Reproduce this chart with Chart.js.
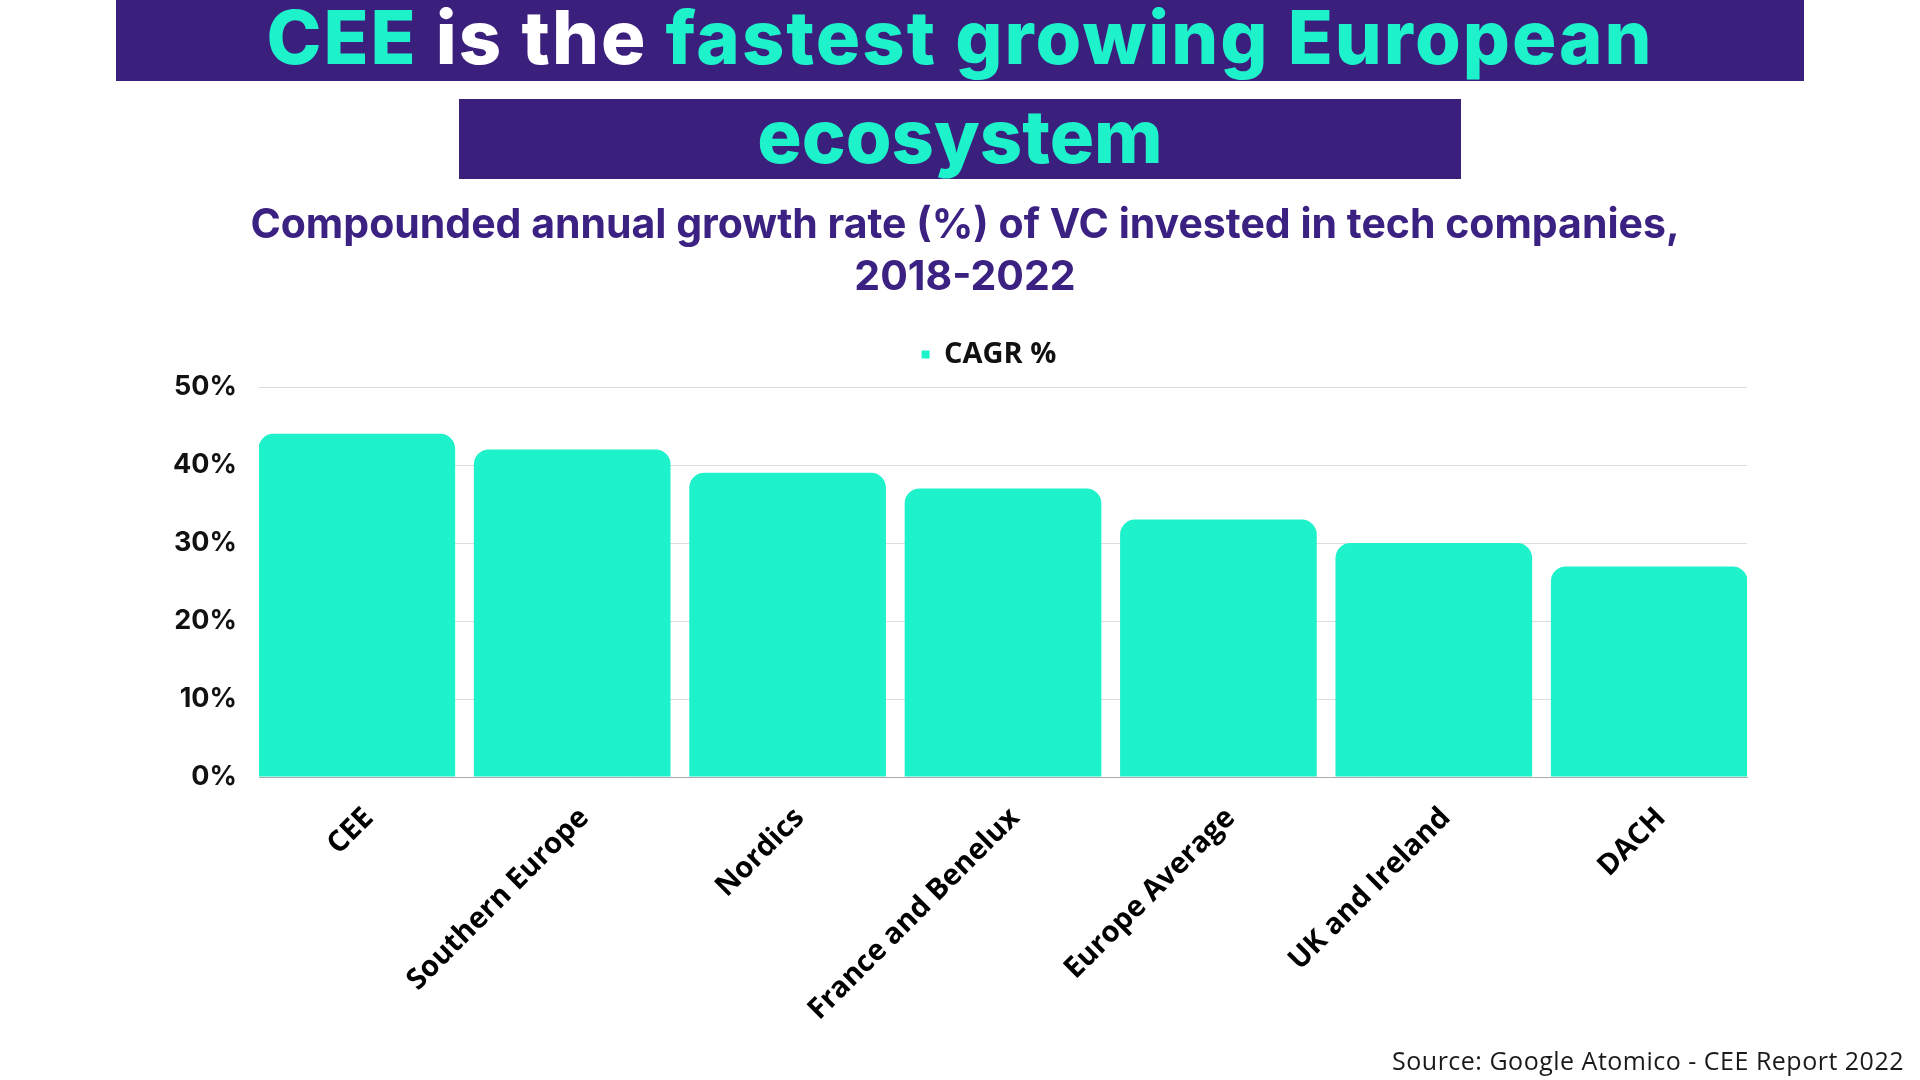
<!DOCTYPE html>
<html>
<head>
<meta charset="utf-8">
<script src="https://cdn.jsdelivr.net/npm/chart.js@4/dist/chart.umd.min.js"></script>
<style>
  body { margin: 0; background: #fff; }
  #page { position: relative; width: 1920px; height: 1080px; overflow: hidden; background: #fff; }
  #grafico { position: absolute; left: 0; top: 0; }
  .banner { position: absolute; background: #3a1f7d; text-align: center; font-family: Inter, sans-serif; font-weight: 800; white-space: nowrap; }
  .teal { color: #1ef2cb; }
  .white { color: #fff; }
  #source { position: absolute; right: 16px; top: 1043px; font-family: "Open Sans", sans-serif; font-size: 25px; letter-spacing: 0.5px; color: #1a1a1a; }
</style>
</head>
<body>
<div id="page">
  <canvas id="grafico" width="1920" height="1080"></canvas>
  <div class="banner" style="left:116px;top:0;width:1688px;height:81px;font-size:74px;line-height:75px;letter-spacing:2px;">
    <span class="teal">CEE</span> <span class="white">is the</span> <span class="teal">fastest growing European</span>
  </div>
  <div class="banner" style="left:459px;top:99px;width:1002px;height:80px;font-size:74px;line-height:74px;">
    <span class="teal">ecosystem</span>
  </div>
  <div id="source">Source: Google Atomico - CEE Report 2022</div>
</div>
<script>
// Dados do gráfico
const categories = ['CEE', 'Southern Europe', 'Nordics', 'France and Benelux', 'Europe Average', 'UK and Ireland', 'DACH'];
const cagrValues = [44, 42, 39, 37, 33, 30, 27];
const yTickLabels = ['0%', '10%', '20%', '30%', '40%', '50%'];
const seriesName = 'CAGR %';
const chartTitle = ['Compounded annual growth rate (%) of VC invested in tech companies,', '2018-2022'];

const teal = '#1ef2cb';
const purple = '#3b2181';

// Ajustes de título e legenda: mais espaço embaixo da legenda e um leve deslocamento para a direita
const ajusteTopo = {
    id: 'ajusteTopo',
    afterInit(chart) {
        const fit = chart.legend.fit;
        chart.legend.fit = function () {
            fit.call(this);
            this.height += 8;
        };
    },
    afterLayout(chart) {
        chart.titleBlock.left += 9;
        chart.titleBlock.right += 9;
        chart.legend.left += 33;
        chart.legend.right += 33;
    }
};

const ctx = document.getElementById('grafico').getContext('2d');

new Chart(ctx, {
    type: 'bar',
    data: {
        labels: categories,
        datasets: [{
            label: seriesName,
            data: cagrValues,
            backgroundColor: teal,
            borderWidth: 0,
            borderRadius: 15,
            barPercentage: 0.913,
            categoryPercentage: 1
        }]
    },
    options: {
        responsive: false,
        animation: false,
        layout: {
            padding: { top: 0, left: 165, right: 173, bottom: 0 }
        },
        plugins: {
            title: {
                display: true,
                text: chartTitle,
                color: purple,
                font: { family: 'Inter', weight: '700', size: 41, lineHeight: 52 / 41 },
                padding: { top: 200, bottom: 26 }
            },
            legend: {
                display: true,
                labels: {
                    boxWidth: 8,
                    boxHeight: 8,
                    padding: 10,
                    color: '#111',
                    font: { family: 'Open Sans', weight: '700', size: 29 }
                }
            },
            tooltip: { enabled: false }
        },
        scales: {
            x: {
                grid: { display: false, drawTicks: false },
                border: { display: true, color: '#aaaaaa', width: 1 },
                ticks: {
                    color: '#000',
                    font: { family: 'Open Sans', weight: '700', size: 29 },
                    minRotation: 45,
                    maxRotation: 45,
                    padding: 24,
                    labelOffset: 12
                },
                // as barras da ponta encostam nas bordas da área do gráfico
                afterBuildTicks(scale) {
                    scale._startValue = -0.454;
                    scale._valueRange = categories.length - 0.092;
                },
                afterFit(scale) { scale.height = 303; }
            },
            y: {
                min: 0,
                max: 50,
                grid: { color: '#dddddd', lineWidth: 1, drawTicks: false },
                border: { display: false },
                ticks: {
                    stepSize: 10,
                    padding: 22,
                    color: '#111',
                    font: { family: 'Inter', weight: '700', size: 27 },
                    callback: (value) => yTickLabels[value / 10]
                },
                afterFit(scale) { scale.width = 94; }
            }
        }
    },
    plugins: [ajusteTopo]
});
</script>
</body>
</html>
